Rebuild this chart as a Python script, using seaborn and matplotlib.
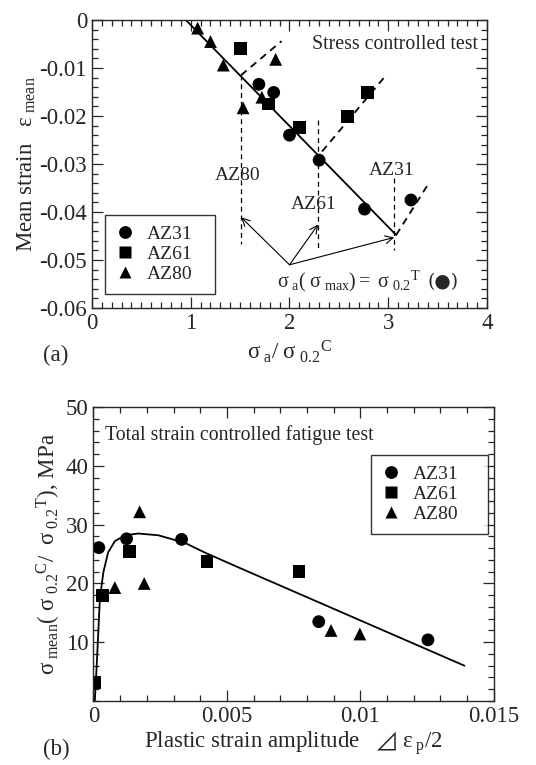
import matplotlib
matplotlib.use("Agg")
import matplotlib.pyplot as plt
from matplotlib.ticker import MultipleLocator, FixedLocator
import pandas as pd
import seaborn as sns

# ---- (a) stress controlled test ----
alloys = ["AZ31", "AZ61", "AZ80"]
az31_sa = [1.69, 1.84, 2.00, 2.30, 2.76, 3.23]
az31_em = [-0.0134, -0.0151, -0.0240, -0.0292, -0.0394, -0.0375]
az61_sa = [1.50, 1.79, 2.10, 2.59, 2.79]
az61_em = [-0.0060, -0.0175, -0.0224, -0.0201, -0.0151]
az80_sa = [1.07, 1.20, 1.33, 1.53, 1.72, 1.86]
az80_em = [-0.0017, -0.0045, -0.0094, -0.0183, -0.0161, -0.0082]

fit_sa = [0.95, 3.08]
fit_em = [0.0, -0.0448]

# dashed guides: vertical (x, y_top, y_bottom) and diagonal branch
guide_x = [1.51, 2.29, 3.06]
guide_top = [-0.0115, -0.0208, -0.0330]
guide_bot = [-0.0467, -0.0480, -0.0480]
branch_sa = [[1.51, 1.92], [2.33, 2.97], [3.08, 3.42]]
branch_em = [[-0.0115, -0.0044], [-0.0274, -0.0117], [-0.0448, -0.0337]]
guide_labels = ["AZ80", "AZ61", "AZ31"]
guide_label_y = [-0.0324, -0.0385, -0.0313]
guide_label_x = [1.47, 2.25, 3.03]

arrow_from = (2.0, -0.051)
arrow_to_y = [-0.0411, -0.0426, -0.0453]

a_xticks = [0, 1, 2, 3, 4]
a_yticks = [0, -0.01, -0.02, -0.03, -0.04, -0.05, -0.06]
a_yticklabels = ["0", "-0.01", "-0.02", "-0.03", "-0.04", "-0.05", "-0.06"]

# ---- (b) total strain controlled fatigue test ----
b_az31_ep = [0.0002, 0.00124, 0.0033, 0.00844, 0.01253]
b_az31_sm = [26.1, 27.6, 27.5, 13.5, 10.4]
b_az61_ep = [0.00005, 0.00033, 0.00135, 0.00425, 0.0077]
b_az61_sm = [3.1, 18.0, 25.4, 23.7, 22.0]
b_az80_ep = [0.0008, 0.00173, 0.0019, 0.0089, 0.00998]
b_az80_sm = [19.3, 32.2, 20.0, 12.0, 11.4]

curve_ep = [0.00005, 0.00012, 0.00018, 0.00024, 0.00037, 0.00055, 0.0008,
            0.00118, 0.00168, 0.00243, 0.00343, 0.0042, 0.0056, 0.0139]
curve_sm = [0.0, 6.0, 11.7, 17.4, 21.9, 25.3, 27.2, 28.2, 28.5, 28.2, 26.9,
            25.2, 22.4, 6.0]

b_xticks = [0, 0.005, 0.01, 0.015]
b_xticklabels = ["0", "0.005", "0.01", "0.015"]
b_yticks = [10, 20, 30, 40, 50]

sns.set_style("ticks")
plt.rcParams["font.family"] = ["Liberation Serif", "DejaVu Sans"]
plt.rcParams["mathtext.fontset"] = "custom"
plt.rcParams["mathtext.rm"] = "Liberation Serif"
plt.rcParams["mathtext.it"] = "Liberation Serif:italic"
plt.rcParams["mathtext.fallback"] = "stix"
plt.rcParams["axes.unicode_minus"] = False
plt.rcParams["axes.linewidth"] = 1.0

markers = {"AZ31": "o", "AZ61": "s", "AZ80": "^"}

df_a = pd.DataFrame({
    "sa": az31_sa + az61_sa + az80_sa,
    "em": az31_em + az61_em + az80_em,
    "alloy": ["AZ31"] * len(az31_sa) + ["AZ61"] * len(az61_sa) + ["AZ80"] * len(az80_sa),
})
df_b = pd.DataFrame({
    "ep": b_az31_ep + b_az61_ep + b_az80_ep,
    "sm": b_az31_sm + b_az61_sm + b_az80_sm,
    "alloy": ["AZ31"] * len(b_az31_ep) + ["AZ61"] * len(b_az61_ep) + ["AZ80"] * len(b_az80_ep),
})

fig = plt.figure(figsize=(5.36, 7.65), dpi=100)
ax1 = fig.add_axes([0.1716, 0.5974, 0.737, 0.3765])
ax2 = fig.add_axes([0.1744, 0.0837, 0.747, 0.384])


def style_ticks(ax):
    ax.tick_params(which="both", direction="in", top=True, right=True,
                   labelsize=16.5, width=0.9)
    ax.tick_params(which="major", length=8)
    ax.tick_params(which="minor", length=4)


leg_kw = dict(fontsize=14, frameon=True, fancybox=False, edgecolor="black",
              handletextpad=0.6, borderpad=0.55, labelspacing=0.12,
              handlelength=1.0, borderaxespad=0, mode="expand")

# (a)
sns.lineplot(x=fit_sa, y=fit_em, ax=ax1, color="black", lw=1.3)
for i in range(len(guide_x)):
    ax1.plot([guide_x[i], guide_x[i]], [guide_top[i], guide_bot[i]],
             color="black", lw=0.9, ls=(0, (4, 3)))
    ax1.plot(branch_sa[i], branch_em[i], color="black", lw=1.3, ls=(0, (4, 3)))
    ax1.text(guide_label_x[i], guide_label_y[i], guide_labels[i],
             ha="center", va="center", fontsize=14)
    ax1.annotate("", xy=(guide_x[i], arrow_to_y[i]), xytext=arrow_from,
                 arrowprops=dict(arrowstyle="->", lw=0.8, color="black",
                                 shrinkA=0, shrinkB=0, mutation_scale=14))
sns.scatterplot(data=df_a, x="sa", y="em", style="alloy", markers=markers,
                color="black", s=85, edgecolor="none", ax=ax1)
ax1.text(3.91, -0.0052, "Stress controlled test", ha="right", va="center",
         fontsize=14.3)
ax1.text(2.6, -0.0545,
         r"$\mathrm{σ_{\ a}(\ σ_{\ max})=\ σ_{\ 0.2}{}^{T}}$",
         ha="center", va="center", fontsize=14.5)
ax1.text(3.56, -0.0545, "(●)", ha="center", va="center", fontsize=13.5,
         family=["DejaVu Serif"])
ax1.set_xlim(0, 4)
ax1.set_ylim(-0.06, 0)
ax1.xaxis.set_major_locator(FixedLocator(a_xticks))
ax1.xaxis.set_minor_locator(MultipleLocator(0.1))
ax1.yaxis.set_major_locator(FixedLocator(a_yticks))
ax1.set_yticklabels(a_yticklabels)
ax1.yaxis.set_minor_locator(MultipleLocator(0.002))
style_ticks(ax1)
ax1.set_xlabel(r"$\mathrm{σ_{\ a}/\ σ_{\ 0.2}{}^{C}}$", fontsize=16.5, labelpad=3)
ax1.set_ylabel(r"Mean strain   $\mathrm{ε_{\ mean}}$", fontsize=16.5, labelpad=1)
leg = ax1.legend(loc="upper left", bbox_to_anchor=(0.033, 0.06, 0.278, 0.263),
                 **leg_kw)
leg.get_frame().set_linewidth(1.0)
fig.text(0.08, 0.536, "(a)", fontsize=16.5, ha="left", va="center")

# (b)
sns.lineplot(x=curve_ep, y=curve_sm, ax=ax2, color="black", lw=1.3,
             sort=False)
sns.scatterplot(data=df_b, x="ep", y="sm", style="alloy", markers=markers,
                color="black", s=85, edgecolor="none", ax=ax2)
ax2.text(0.00043, 45.3, "Total strain controlled fatigue test", ha="left",
         va="center", fontsize=14.3)
ax2.set_xlim(0, 0.015)
ax2.set_ylim(0, 50)
ax2.xaxis.set_major_locator(FixedLocator(b_xticks))
ax2.set_xticklabels(b_xticklabels)
ax2.xaxis.set_minor_locator(MultipleLocator(0.001))
ax2.yaxis.set_major_locator(FixedLocator(b_yticks))
ax2.yaxis.set_minor_locator(MultipleLocator(2))
style_ticks(ax2)
ax2.set_xlabel(r"Plastic strain amplitude   $\mathrm{⊿\ ε_{\ p}/2}$",
               fontsize=16.5, labelpad=2)
ax2.set_ylabel(r"$\mathrm{σ_{\ mean}(\ σ_{\ 0.2}{}^{C}/\ \ σ_{\ 0.2}{}^{T})}$, MPa",
               fontsize=16.5, labelpad=2)
leg2 = ax2.legend(loc="upper left", bbox_to_anchor=(0.692, 0.5, 0.294, 0.338),
                  **leg_kw)
leg2.get_frame().set_linewidth(1.0)
fig.text(0.08, 0.02, "(b)", fontsize=16.5, ha="left", va="center")

fig.savefig("out.png", dpi=100)
